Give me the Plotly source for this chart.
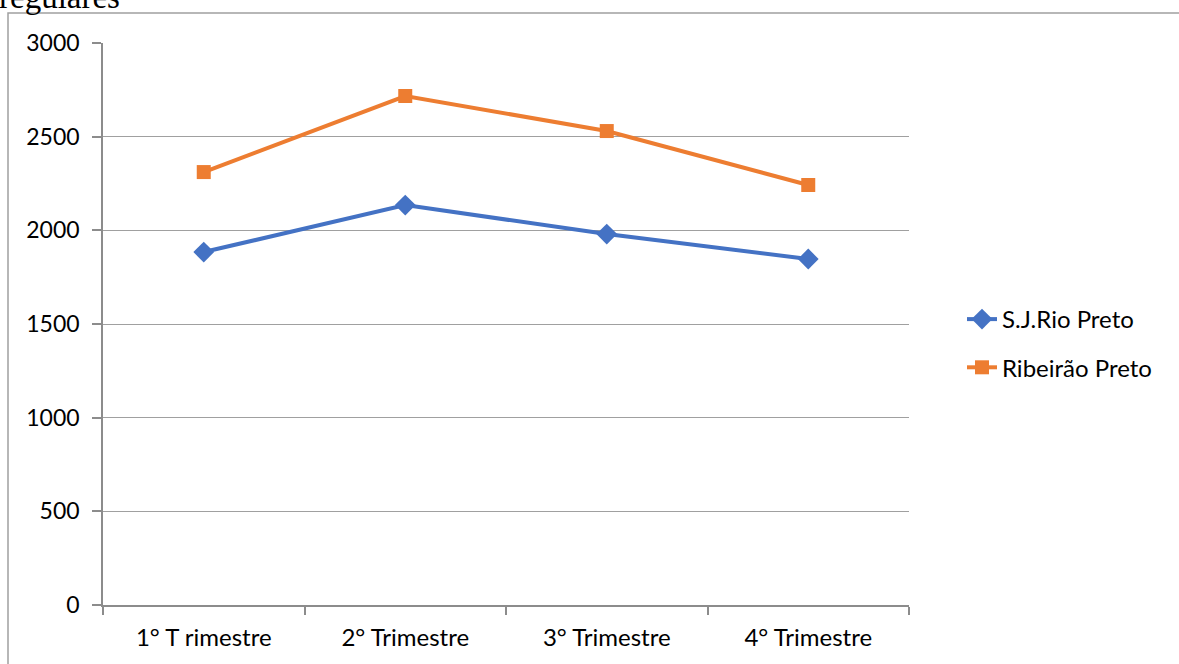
import plotly.graph_objects as go

# Quarterly values for the two cities
trimestres = ["1° T rimestre", "2° Trimestre", "3° Trimestre", "4° Trimestre"]
sj_rio_preto = [1884, 2135, 1980, 1847]
ribeirao_preto = [2311, 2717, 2530, 2242]
y_ticks = [0, 500, 1000, 1500, 2000, 2500, 3000]

# Plot-area pixel geometry
W, H = 1179, 664
L, R, T, B = 103, 909, 43, 605

def px_x(p):
    return (p - L) / (R - L)

def px_y(p):
    return (B - p) / (B - T)

fig = go.Figure()
fig.add_trace(go.Scatter(
    x=trimestres, y=sj_rio_preto, name="S.J.Rio Preto", mode="lines+markers",
    line=dict(color="#4472C4", width=4),
    marker=dict(symbol="diamond", size=16, color="#4472C4"),
    legendgroup="a",
))
fig.add_trace(go.Scatter(
    x=trimestres, y=ribeirao_preto, name="Ribeirão Preto", mode="lines+markers",
    line=dict(color="#ED7D31", width=4),
    marker=dict(symbol="square", size=14, color="#ED7D31"),
    legendgroup="b",
))

axis_font = dict(family="Lato, Carlito, Calibri, sans-serif", size=24, color="#000000")
num_font = dict(family="Lato, Carlito, Calibri, sans-serif", size=23, color="#000000")

fig.update_layout(
    width=W, height=H,
    margin=dict(l=L, r=W - R, t=T, b=H - B, autoexpand=False),
    paper_bgcolor="white", plot_bgcolor="white",
    showlegend=True,
    legend=dict(
        x=px_x(962), y=px_y(297), xanchor="left", yanchor="top",
        font=axis_font, tracegroupgap=14, itemwidth=30,
        bgcolor="rgba(0,0,0,0)",
    ),
    xaxis=dict(
        type="category", tickson="boundaries", ticks="outside", ticklen=8,
        tickcolor="#8C8C8C", tickwidth=1.5, showline=True, linecolor="#8C8C8C",
        linewidth=1.5, showgrid=False, tickfont=axis_font, range=[-0.5, 3.5],
        ticklabelstandoff=10,
    ),
    yaxis=dict(
        range=[0, 3000], tickvals=y_ticks, ticks="outside", ticklen=9,
        tickcolor="#8C8C8C", tickwidth=1.5, showline=True, linecolor="#8C8C8C",
        linewidth=1.5, showgrid=True, gridcolor="#A0A0A0", gridwidth=1.3,
        tickfont=num_font, zeroline=False, ticklabelstandoff=8,
    ),
    shapes=[dict(
        type="rect", xref="paper", yref="paper",
        x0=px_x(8), x1=px_x(1190), y0=px_y(675), y1=px_y(13),
        line=dict(color="#A0A0A0", width=1.5), fillcolor="rgba(0,0,0,0)",
        layer="below",
    )],
    annotations=[dict(
        text="regulares", xref="paper", yref="paper",
        x=px_x(-3), y=px_y(17), xanchor="left", yanchor="bottom",
        showarrow=False,
        font=dict(family="Liberation Serif, Times New Roman, serif", size=33, color="#000000"),
    )],
)

fig.write_html("out.html")
